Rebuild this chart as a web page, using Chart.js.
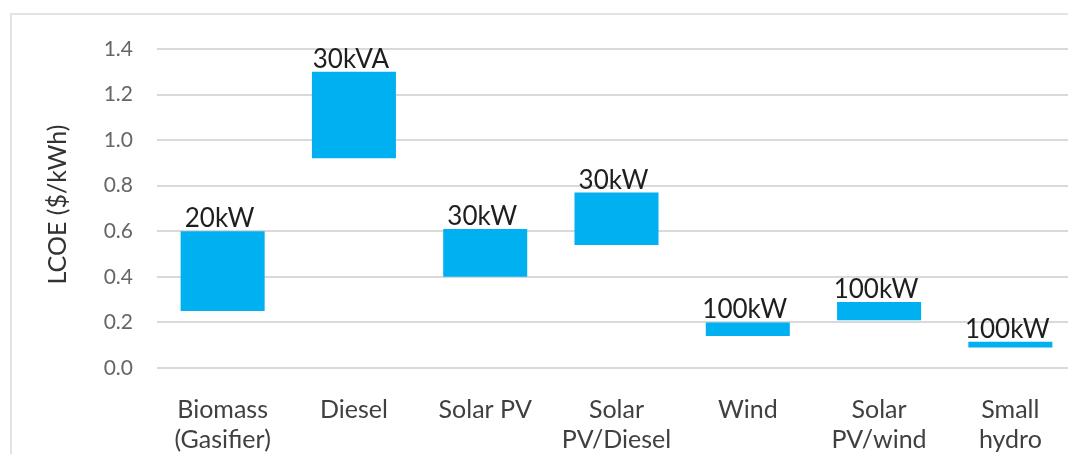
<!DOCTYPE html>
<html>
<head>
<meta charset="utf-8">
<script src="https://cdn.jsdelivr.net/npm/chart.js@4/dist/chart.umd.min.js"></script>
<style>
  html, body { margin: 0; padding: 0; background: #fff; overflow: hidden; }
  #frame { position: absolute; left: 10px; top: 13px; width: 1100px; height: 500px;
           border-left: 2px solid #e3e3e3; border-top: 2px solid #e3e3e3; }
  #wrap { position: absolute; left: 0; top: 0; width: 1084px; height: 454px; }
</style>
</head>
<body>
<div id="frame"></div>
<div id="wrap"><canvas id="lcoeChart" width="1084" height="454"></canvas></div>
<script>
"use strict";
// technologies on the x axis
var categories = [
  ["Biomass", "(Gasifier)"], "Diesel", "Solar PV", ["Solar", "PV/Diesel"],
  "Wind", ["Solar", "PV/wind"], ["Small", "hydro"]
];
// LCOE range, $/kWh
var lowValues  = [0.25, 0.92, 0.40, 0.54, 0.14, 0.21, 0.09];
var highValues = [0.60, 1.30, 0.61, 0.77, 0.20, 0.29, 0.115];
var capacityLabels = ["20kW", "30kVA", "30kW", "30kW", "100kW", "100kW", "100kW"];
var yTitle = 'LCOE ($/kWh)';
var yMin = 0, yMax = 1.4, yStep = 0.2;

var ranges = lowValues.map(function (lo, i) { return [lo, highValues[i]]; });

var capacityLabelPlugin = {
  id: 'capacityLabels',
  afterDatasetsDraw: function (chart) {
    var ctx = chart.ctx;
    var meta = chart.getDatasetMeta(0);
    ctx.save();
    ctx.font = '26px Lato';
    ctx.fillStyle = '#1e1e1e';
    ctx.textAlign = 'center';
    ctx.textBaseline = 'alphabetic';
    meta.data.forEach(function (bar, i) {
      ctx.fillText(capacityLabels[i], bar.x - 3, bar.y - 4);
    });
    // y axis title, rotated
    var area = chart.chartArea;
    ctx.font = '25px Lato';
    ctx.fillStyle = '#333333';
    ctx.textBaseline = 'middle';
    ctx.translate(58, (area.top + area.bottom) / 2 - 4);
    ctx.rotate(-Math.PI / 2);
    ctx.fillText(yTitle, 0, 0);
    ctx.restore();
  }
};

var canvas = document.getElementById('lcoeChart').getContext('2d');
new Chart(canvas, {
  type: 'bar',
  data: {
    labels: categories,
    datasets: [{
      data: ranges,
      backgroundColor: '#00b0f0',
      borderWidth: 0,
      barPercentage: 0.64,
      categoryPercentage: 1.0
    }]
  },
  options: {
    responsive: false,
    animation: false,
    layout: { padding: { left: 0, right: 8, top: 49, bottom: 0 } },
    plugins: { legend: { display: false }, tooltip: { enabled: false } },
    scales: {
      x: {
        grid: { display: false },
        border: { display: false },
        ticks: {
          color: '#404040',
          font: { family: 'Lato', size: 25 },
          padding: 19,
          maxRotation: 0,
          autoSkip: false
        },
        afterFit: function (scale) { scale.height = 86; }
      },
      y: {
        min: yMin,
        max: yMax,
        grid: { color: '#d9d9d9', lineWidth: 2, drawTicks: false },
        border: { display: false },
        ticks: {
          stepSize: yStep,
          color: '#666666',
          font: { family: 'Lato', size: 21 },
          padding: 24,
          callback: function (v) { return v.toFixed(1); }
        },
        afterFit: function (scale) { scale.width = 157; }
      }
    }
  },
  plugins: [capacityLabelPlugin]
});
</script>
</body>
</html>
